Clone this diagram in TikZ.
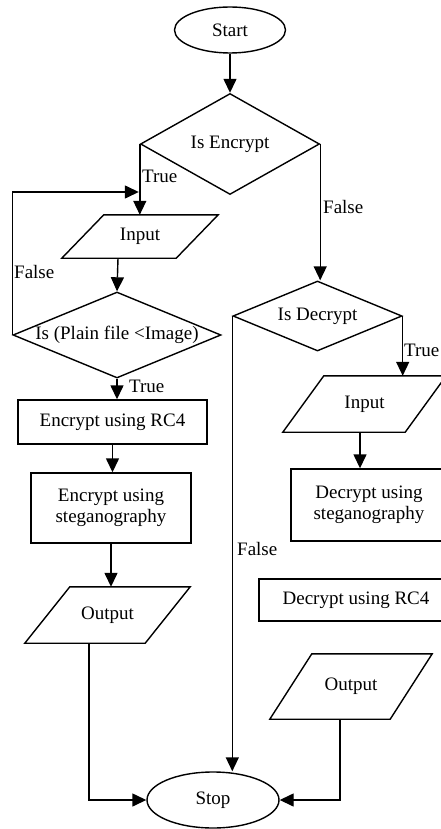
\documentclass[tikz,border=0pt]{standalone}
\usepackage{fontspec}
\setmainfont{Liberation Serif}
\usetikzlibrary{shapes.geometric,arrows.meta,calc}
\tikzset{
  every node/.style={font=\fontsize{19}{21}\selectfont, inner sep=0pt},
  ln/.style={line width=1.4pt},
  arr/.style={ln, -{Triangle[length=14pt,width=13pt]}},
  term/.style={ellipse, draw, ln},
  dec/.style={diamond, draw, ln},
  proc/.style={rectangle, draw, ln, align=center},
  iobox/.style={rectangle, align=center},
  lbl/.style={anchor=west}
}
\newcommand{\paradraw}[2]{%
  \draw[ln] (#1.south west) -- ($(#1.north west)+(#2,0)$) -- (#1.north east) -- ($(#1.south east)-(#2,0)$) -- cycle;}
\begin{document}
\begin{tikzpicture}[x=1pt,y=-1pt]
\useasboundingbox (0,0) rectangle (440,829);
% nodes
\node[term, minimum width=111pt, minimum height=46pt] (start) at (230,30) {Start};
\node[dec, minimum width=179pt, minimum height=101pt] (enc) at (230,144) {\makebox[0pt]{Is Encrypt}};
\node[iobox, minimum width=156pt, minimum height=43pt] (in1) at (140,236.5) {Input};
\paradraw{in1}{42}
\node[dec, minimum width=208pt, minimum height=86pt] (plain) at (117,335) {\makebox[0pt]{Is (Plain file <Image)}};
\node[proc, minimum width=189pt, minimum height=44pt] (rc4) at (112.5,422) {Encrypt using RC4};
\node[proc, minimum width=160pt, minimum height=70pt] (steg) at (111,508) {Encrypt using\\steganography};
\node[iobox, minimum width=165pt, minimum height=56pt] (out1) at (107.5,615) {Output};
\paradraw{out1}{45}
\node[term, minimum width=132pt, minimum height=56pt] (stop) at (213,800) {Stop};
\node[dec, minimum width=169pt, minimum height=70pt] (isdec) at (317.5,316) {\makebox[0pt]{Is Decrypt}};
\node[iobox, minimum width=163pt, minimum height=56pt] (in2) at (364.5,404) {Input};
\paradraw{in2}{41}
\node[proc, minimum width=156pt, minimum height=72pt] (dsteg) at (369,505) {Decrypt using\\steganography};
\node[proc, minimum width=194pt, minimum height=42pt] (drc4) at (356,600) {Decrypt using RC4};
\node[iobox, minimum width=162pt, minimum height=65pt] (out2) at (351,686.5) {Output};
\paradraw{out2}{42}
% helper coordinates
\coordinate (loopy) at (0,192);
\coordinate (xin1) at (118,0);
\coordinate (xout1) at (89,0);
\coordinate (xin2) at (360,0);
\coordinate (xout2) at (340,0);
% connectors
\draw[arr] (start.south) -- (enc.north);
\draw[arr] (enc.west) -- (enc.west |- in1.north);
\draw[arr] (plain.west) |- ($(enc.west |- loopy)+(-1,0)$);
\draw[arr] (xin1 |- in1.south) -- (plain.north);
\draw[arr] (plain.south) -- (plain.south |- rc4.north);
\draw[arr] (rc4.south) -- (rc4.south |- steg.north);
\draw[arr] (steg.south) -- (steg.south |- out1.north);
\draw[arr] (xout1 |- out1.south) |- (stop.west);
\draw[arr] (enc.east) -- (enc.east |- isdec.north);
\draw[arr] (isdec.east) -- (isdec.east |- in2.north);
\draw[arr] (xin2 |- in2.south) -- (xin2 |- dsteg.north);
\draw[arr] (isdec.west) -- (isdec.west |- stop.north);
\draw[arr] (xout2 |- out2.south) |- (stop.east);
% labels
\node[lbl] (t1) at (142,176) {True};
\node[lbl] (f1) at (14,272) {False};
\node[lbl] (t2) at (129,386) {True};
\node[lbl] (f2) at (323,207) {False};
\node[lbl] (t3) at (404,350) {True};
\node[lbl] (f3) at (237,549) {False};
\end{tikzpicture}
\end{document}
